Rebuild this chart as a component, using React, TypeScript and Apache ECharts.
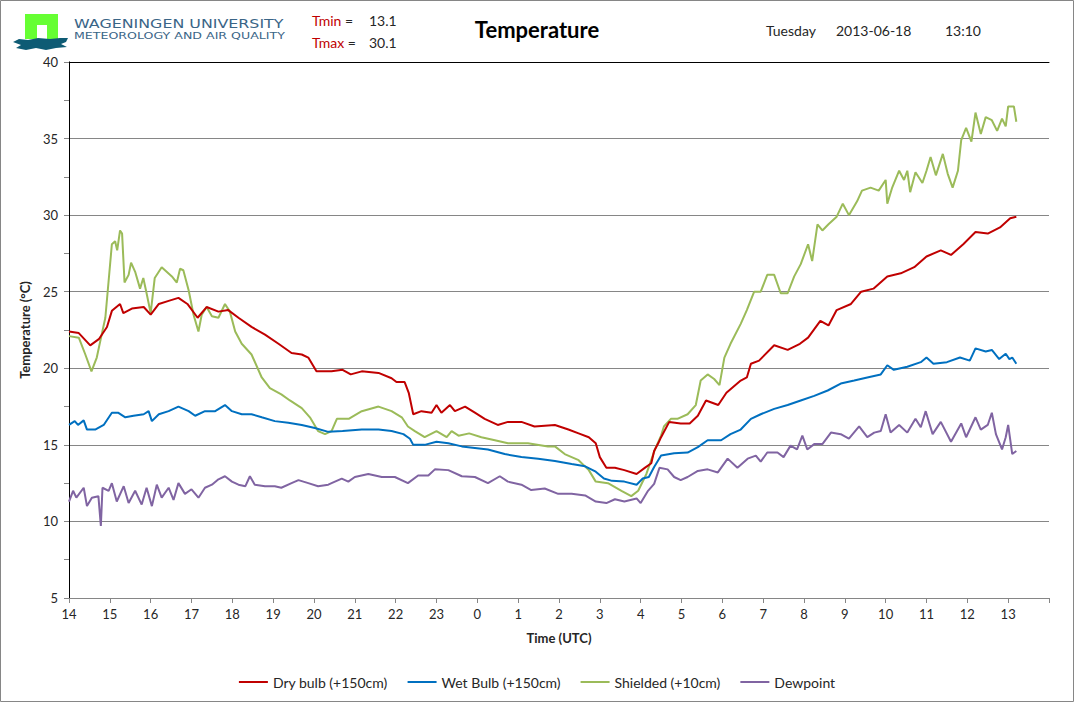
import React, { useEffect, useRef } from "react";
import * as echarts from "echarts";

// hours after 14:00 UTC, temperature in °C
const dryBulb: [number, number][] = [
  [0, 22.4], [0.24, 22.3], [0.52, 21.5], [0.73, 21.9], [0.93, 22.7], [1.05, 23.75], [1.25, 24.2], [1.33, 23.6],
  [1.54, 23.9], [1.83, 24.0], [2.0, 23.5], [2.2, 24.2], [2.44, 24.4], [2.68, 24.6], [2.9, 24.2], [3.15, 23.3],
  [3.37, 24.0], [3.66, 23.7], [3.9, 23.8], [4.15, 23.3], [4.47, 22.7], [4.8, 22.2], [5.13, 21.6], [5.45, 21.0],
  [5.7, 20.9], [5.86, 20.7], [6.06, 19.8], [6.43, 19.8], [6.7, 19.9], [6.9, 19.6], [7.17, 19.8], [7.58, 19.7],
  [7.9, 19.35], [8.02, 19.1], [8.22, 19.1], [8.32, 18.4], [8.43, 17.0], [8.63, 17.2], [8.88, 17.1], [9.0, 17.6],
  [9.12, 17.1], [9.33, 17.6], [9.45, 17.2], [9.7, 17.5], [9.94, 17.1], [10.18, 16.7], [10.5, 16.3], [10.75, 16.5],
  [11.08, 16.5], [11.4, 16.2], [11.9, 16.3], [12.23, 16.0], [12.48, 15.75], [12.73, 15.5], [12.9, 15.1], [13.0, 14.2],
  [13.16, 13.5], [13.37, 13.5], [13.6, 13.35], [13.9, 13.1], [14.1, 13.5], [14.26, 13.8], [14.33, 14.6], [14.43, 15.1],
  [14.5, 15.5], [14.7, 16.5], [14.98, 16.4], [15.2, 16.4], [15.4, 16.9], [15.6, 17.9], [15.9, 17.6], [16.1, 18.4],
  [16.45, 19.2], [16.6, 19.4], [16.7, 20.3], [16.9, 20.5], [17.27, 21.5], [17.6, 21.2], [17.9, 21.6], [18.1, 22.0],
  [18.4, 23.1], [18.6, 22.8], [18.8, 23.8], [19.15, 24.2], [19.4, 25.0], [19.7, 25.2], [20.04, 26.0], [20.37, 26.2],
  [20.7, 26.6], [21.0, 27.3], [21.35, 27.7], [21.6, 27.4], [21.9, 28.1], [22.2, 28.9], [22.5, 28.8], [22.8, 29.2],
  [23.05, 29.8], [23.2, 29.9],
];

const wetBulb: [number, number][] = [
  [0, 16.3], [0.14, 16.55], [0.22, 16.3], [0.36, 16.6], [0.44, 16.0], [0.64, 16.0], [0.85, 16.3], [1.05, 17.1],
  [1.2, 17.1], [1.38, 16.8], [1.58, 16.9], [1.83, 17.0], [1.95, 17.2], [2.03, 16.55], [2.2, 17.0], [2.44, 17.2],
  [2.68, 17.5], [2.93, 17.2], [3.09, 16.9], [3.33, 17.2], [3.58, 17.2], [3.82, 17.6], [3.99, 17.2], [4.23, 17.0],
  [4.47, 17.0], [4.72, 16.8], [5.04, 16.55], [5.37, 16.45], [5.7, 16.3], [6.02, 16.1], [6.35, 15.85], [6.7, 15.9],
  [7.17, 16.0], [7.58, 16.0], [7.9, 15.9], [8.19, 15.7], [8.35, 15.4], [8.43, 15.0], [8.71, 15.0], [9.0, 15.2],
  [9.29, 15.1], [9.62, 14.9], [9.94, 14.8], [10.26, 14.7], [10.67, 14.4], [11.08, 14.2], [11.49, 14.1], [11.9, 13.95],
  [12.31, 13.75], [12.64, 13.6], [12.9, 13.25], [13.1, 12.8], [13.3, 12.65], [13.6, 12.6], [13.9, 12.4], [14.05, 12.8],
  [14.2, 12.9], [14.33, 13.55], [14.5, 14.3], [14.82, 14.45], [15.15, 14.5], [15.4, 14.85], [15.64, 15.3], [15.97, 15.3],
  [16.2, 15.7], [16.45, 16.0], [16.7, 16.7], [16.94, 17.0], [17.27, 17.35], [17.6, 17.6], [17.92, 17.9], [18.25, 18.2],
  [18.58, 18.55], [18.9, 19.0], [19.23, 19.2], [19.55, 19.4], [19.88, 19.6], [20.04, 20.2], [20.2, 19.9], [20.53, 20.1],
  [20.86, 20.4], [21.0, 20.7], [21.17, 20.3], [21.5, 20.4], [21.82, 20.7], [22.06, 20.5], [22.2, 21.3], [22.45, 21.1],
  [22.6, 21.2], [22.78, 20.6], [22.94, 20.95], [23.03, 20.6], [23.1, 20.7], [23.2, 20.3],
];

const shielded: [number, number][] = [
  [0, 22.1], [0.24, 22.0], [0.4, 20.9], [0.55, 19.8], [0.68, 20.7], [0.8, 22.2], [0.89, 23.3], [0.97, 25.7],
  [1.05, 28.1], [1.13, 28.3], [1.18, 27.7], [1.25, 29.0], [1.3, 28.8], [1.36, 25.6], [1.46, 26.1], [1.52, 26.9],
  [1.62, 26.3], [1.74, 25.2], [1.82, 25.9], [1.9, 24.9], [2.0, 23.6], [2.1, 25.9], [2.27, 26.6], [2.52, 26.0],
  [2.64, 25.6], [2.72, 26.5], [2.8, 26.4], [2.93, 25.1], [3.05, 23.5], [3.17, 22.4], [3.25, 23.5], [3.37, 24.0],
  [3.5, 23.4], [3.66, 23.3], [3.82, 24.2], [3.94, 23.7], [4.07, 22.4], [4.23, 21.6], [4.47, 20.9], [4.72, 19.4],
  [4.92, 18.7], [5.2, 18.3], [5.41, 17.9], [5.7, 17.4], [5.9, 16.8], [6.1, 15.9], [6.27, 15.7], [6.43, 15.9],
  [6.56, 16.7], [6.85, 16.7], [7.17, 17.2], [7.58, 17.5], [7.9, 17.2], [8.15, 16.8], [8.3, 16.2], [8.47, 15.9],
  [8.71, 15.5], [9.0, 15.9], [9.25, 15.5], [9.37, 15.9], [9.54, 15.6], [9.8, 15.75], [10.1, 15.5], [10.43, 15.3],
  [10.75, 15.1], [11.24, 15.1], [11.73, 14.9], [11.9, 14.9], [12.14, 14.4], [12.48, 14.0], [12.73, 13.35], [12.9, 12.6],
  [13.2, 12.5], [13.53, 12.0], [13.77, 11.65], [13.94, 12.0], [14.14, 13.1], [14.35, 14.7], [14.5, 15.6], [14.57, 16.2],
  [14.74, 16.7], [14.9, 16.7], [15.15, 17.0], [15.35, 17.6], [15.47, 19.2], [15.64, 19.6], [15.8, 19.3], [15.93, 18.9],
  [16.05, 20.7], [16.2, 21.6], [16.45, 22.9], [16.6, 23.8], [16.78, 25.0], [16.94, 25.0], [17.1, 26.1], [17.27, 26.1],
  [17.43, 24.9], [17.6, 24.9], [17.76, 26.0], [17.92, 26.8], [18.1, 28.1], [18.2, 27.0], [18.33, 29.4], [18.45, 29.0],
  [18.6, 29.4], [18.8, 29.9], [18.95, 30.75], [19.1, 30.0], [19.3, 30.9], [19.42, 31.6], [19.63, 31.8], [19.83, 31.6],
  [20.0, 32.3], [20.04, 30.75], [20.16, 31.8], [20.33, 32.9], [20.45, 32.3], [20.53, 32.9], [20.6, 31.5], [20.73, 32.8],
  [20.9, 32.1], [21.0, 32.9], [21.1, 33.8], [21.23, 32.6], [21.4, 34.0], [21.52, 32.7], [21.64, 31.8], [21.77, 32.9],
  [21.85, 34.9], [21.97, 35.7], [22.1, 34.8], [22.2, 36.7], [22.33, 35.3], [22.45, 36.4], [22.6, 36.2], [22.73, 35.5],
  [22.85, 36.3], [22.94, 35.8], [23.0, 37.1], [23.14, 37.1], [23.2, 36.1],
];

const dewpoint: [number, number][] = [
  [0, 11.3], [0.1, 12.0], [0.18, 11.55], [0.36, 12.2], [0.44, 11.0], [0.56, 11.55], [0.72, 11.65], [0.78, 9.7],
  [0.82, 12.2], [0.97, 12.0], [1.05, 12.5], [1.17, 11.3], [1.34, 12.3], [1.46, 11.2], [1.62, 12.0], [1.78, 11.1],
  [1.9, 12.2], [2.03, 11.0], [2.15, 12.4], [2.27, 11.55], [2.44, 12.2], [2.56, 11.4], [2.68, 12.5], [2.84, 11.8],
  [3.0, 12.1], [3.17, 11.55], [3.33, 12.2], [3.5, 12.4], [3.66, 12.75], [3.82, 12.95], [3.99, 12.6], [4.15, 12.4],
  [4.32, 12.3], [4.43, 12.95], [4.55, 12.4], [4.8, 12.3], [5.04, 12.3], [5.2, 12.2], [5.45, 12.5], [5.62, 12.7],
  [5.86, 12.5], [6.1, 12.3], [6.35, 12.4], [6.43, 12.5], [6.68, 12.8], [6.84, 12.6], [7.0, 12.9], [7.33, 13.1],
  [7.66, 12.9], [7.98, 12.9], [8.3, 12.5], [8.55, 13.0], [8.8, 13.0], [8.96, 13.4], [9.29, 13.35], [9.62, 12.95],
  [9.94, 12.9], [10.26, 12.5], [10.55, 12.95], [10.75, 12.6], [11.08, 12.4], [11.32, 12.05], [11.65, 12.15], [11.98, 11.8],
  [12.31, 11.8], [12.64, 11.7], [12.9, 11.3], [13.16, 11.2], [13.37, 11.45], [13.6, 11.3], [13.9, 11.5], [14.0, 11.2],
  [14.18, 12.0], [14.33, 12.45], [14.46, 13.5], [14.66, 13.4], [14.82, 12.9], [14.98, 12.7], [15.15, 12.9], [15.4, 13.3],
  [15.64, 13.4], [15.89, 13.2], [16.13, 14.1], [16.37, 13.5], [16.62, 14.1], [16.82, 14.3], [16.94, 13.9], [17.1, 14.5],
  [17.35, 14.5], [17.5, 14.2], [17.67, 14.95], [17.83, 14.7], [17.96, 15.6], [18.08, 14.7], [18.25, 15.05], [18.45, 15.05],
  [18.66, 15.8], [18.9, 15.7], [19.1, 15.4], [19.35, 16.2], [19.55, 15.5], [19.72, 15.8], [19.88, 15.9], [20.0, 17.0],
  [20.12, 15.8], [20.33, 16.3], [20.53, 15.8], [20.73, 16.7], [20.86, 16.15], [20.98, 17.2], [21.15, 15.7], [21.35, 16.5],
  [21.6, 15.2], [21.85, 16.4], [21.97, 15.5], [22.2, 16.8], [22.33, 16.0], [22.5, 16.3], [22.6, 17.1], [22.7, 15.7],
  [22.85, 14.7], [22.94, 15.5], [23.0, 16.3], [23.1, 14.4], [23.2, 14.6],
];

const seriesNames = ["Dry bulb (+150cm)", "Wet Bulb (+150cm)", "Shielded (+10cm)", "Dewpoint"];
const seriesColors = ["#C00000", "#0070C0", "#9BBB59", "#8064A2"];
const startHour = 14;

const FONT = "Lato, 'Open Sans', sans-serif";

const App: React.FC = () => {
  const chartRef = useRef<HTMLDivElement>(null);

  useEffect(() => {
    document.body.style.margin = "0";
    if (!chartRef.current) return;
    const chart = echarts.init(chartRef.current, null, { renderer: "svg" });

    const gray = "#868686";
    const txt = "#262626";

    const option: echarts.EChartsOption = {
      animation: false,
      backgroundColor: "#ffffff",
      textStyle: { fontFamily: FONT },
      grid: { left: 69, right: 25, top: 62, bottom: 104 },
      legend: {
        top: 670,
        left: "center",
        icon: "rect",
        itemWidth: 29,
        itemHeight: 2,
        itemGap: 20,
        textStyle: { fontSize: 14, color: txt, fontFamily: FONT },
        data: seriesNames,
      },
      xAxis: [
        {
          type: "value",
          min: 0,
          max: 24,
          interval: 1,
          name: "Time (UTC)",
          nameLocation: "middle",
          nameGap: 33,
          nameTextStyle: { fontSize: 13, fontWeight: "bold", color: txt },
          axisLine: { lineStyle: { color: gray } },
          axisTick: { show: true, length: 5, lineStyle: { color: gray } },
          axisLabel: {
            fontSize: 13,
            color: txt,
            margin: 9,
            formatter: (v: number) => (v >= 24 ? "" : String((startHour + v) % 24)),
          },
          splitLine: { show: false },
        },
        {
          type: "value",
          position: "top",
          min: 0,
          max: 24,
          axisLine: { lineStyle: { color: "#000000" } },
          axisTick: { show: false },
          axisLabel: { show: false },
          splitLine: { show: false },
        },
      ],
      yAxis: [
        {
          type: "value",
          min: 5,
          max: 40,
          interval: 5,
          name: "Temperature (°C)",
          nameLocation: "middle",
          nameGap: 38,
          nameTextStyle: { fontSize: 13, fontWeight: "bold", color: txt },
          axisLine: { show: true, lineStyle: { color: gray } },
          axisTick: { show: true, length: 5, lineStyle: { color: gray } },
          minorTick: { show: true, splitNumber: 2, length: 5, lineStyle: { color: gray } },
          axisLabel: { fontSize: 13, color: txt, margin: 11 },
          splitLine: { lineStyle: { color: gray, width: 1 } },
        },
        {
          type: "value",
          position: "right",
          min: 5,
          max: 40,
          axisLine: { show: true, lineStyle: { color: "#000000" } },
          axisTick: { show: false },
          axisLabel: { show: false },
          splitLine: { show: false },
        },
      ],
      series: [dryBulb, wetBulb, shielded, dewpoint].map((d, i) => ({
        name: seriesNames[i],
        type: "line" as const,
        data: d,
        showSymbol: false,
        symbol: "none",
        color: seriesColors[i],
        lineStyle: { width: 2, color: seriesColors[i] },
        z: 3 + (3 - i),
      })),
      graphic: [
        {
          type: "rect",
          shape: { x: 0.5, y: 0.5, width: 1073, height: 701 },
          style: { fill: "none", stroke: gray, lineWidth: 1 },
          silent: true,
        },
        // logo
        { type: "rect", shape: { x: 25, y: 14, width: 33, height: 25 }, style: { fill: "#66FF33" } },
        { type: "rect", shape: { x: 37, y: 25, width: 10, height: 14 }, style: { fill: "#ffffff" } },
        {
          type: "polygon",
          shape: {
            points: [
              [13, 42], [19, 39], [28, 40], [38, 38], [50, 39], [60, 38], [68, 38], [66, 42],
              [61, 44], [67, 47], [56, 48], [46, 50], [36, 48], [26, 50], [16, 48], [21, 45],
            ],
          },
          style: { fill: "#0E5B74" },
        },
        {
          type: "text",
          x: 74,
          y: 23.5,
          scaleX: 1.22,
          style: {
            text: "WAGENINGEN UNIVERSITY",
            fontSize: 13,
            fontFamily: "'DejaVu Sans', sans-serif",
            fill: "#3A6587",
            verticalAlign: "middle",
          },
        },
        {
          type: "text",
          x: 74,
          y: 36.5,
          scaleX: 1.4,
          style: {
            text: "METEOROLOGY AND AIR QUALITY",
            fontSize: 9,
            fontFamily: "'DejaVu Sans', sans-serif",
            fill: "#3A6587",
            verticalAlign: "middle",
          },
        },
        {
          type: "text",
          x: 312,
          y: 20,
          style: {
            text: "{r|Tmin} =",
            rich: { r: { fill: "#C00000", fontSize: 14, fontFamily: FONT } },
            fontSize: 14,
            fontFamily: FONT,
            fill: txt,
            verticalAlign: "middle",
          },
        },
        {
          type: "text",
          x: 369,
          y: 20,
          style: { text: "13.1", fontSize: 14, fontFamily: FONT, fill: txt, verticalAlign: "middle" },
        },
        {
          type: "text",
          x: 312,
          y: 42,
          style: {
            text: "{r|Tmax} =",
            rich: { r: { fill: "#C00000", fontSize: 14, fontFamily: FONT } },
            fontSize: 14,
            fontFamily: FONT,
            fill: txt,
            verticalAlign: "middle",
          },
        },
        {
          type: "text",
          x: 369,
          y: 42,
          style: { text: "30.1", fontSize: 14, fontFamily: FONT, fill: txt, verticalAlign: "middle" },
        },
        {
          type: "text",
          x: 537,
          y: 29,
          style: {
            text: "Temperature",
            fontSize: 22,
            fontWeight: "bold",
            fontFamily: FONT,
            fill: "#000000",
            align: "center",
            verticalAlign: "middle",
          },
        },
        {
          type: "text",
          x: 766,
          y: 30,
          style: { text: "Tuesday", fontSize: 14, fontFamily: FONT, fill: txt, verticalAlign: "middle" },
        },
        {
          type: "text",
          x: 836,
          y: 30,
          style: { text: "2013-06-18", fontSize: 14, fontFamily: FONT, fill: txt, verticalAlign: "middle" },
        },
        {
          type: "text",
          x: 945,
          y: 30,
          style: { text: "13:10", fontSize: 14, fontFamily: FONT, fill: txt, verticalAlign: "middle" },
        },
      ],
    };

    chart.setOption(option);

    return () => {
      chart.dispose();
    };
  }, []);

  return <div ref={chartRef} style={{ width: "1074px", height: "702px" }} />;
};

export default App;
